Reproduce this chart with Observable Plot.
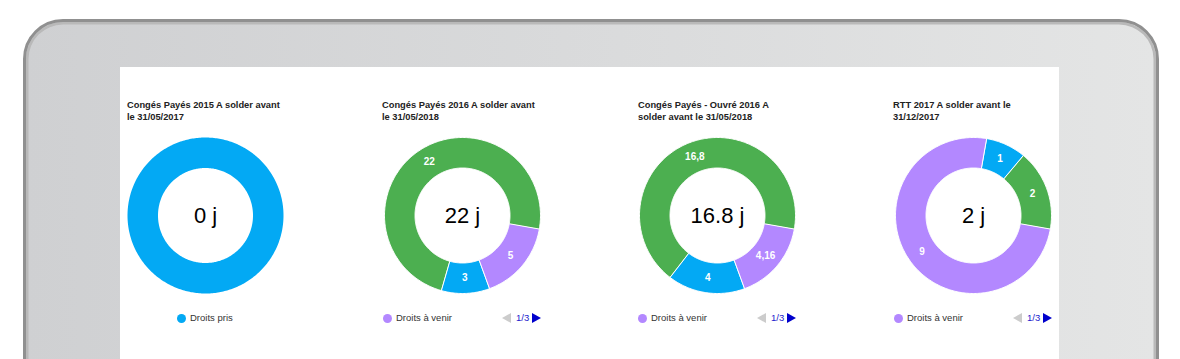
<!DOCTYPE html>
<html><head><meta charset="utf-8">
<script src="https://cdn.jsdelivr.net/npm/d3@7"></script>
<script src="https://cdn.jsdelivr.net/npm/@observablehq/plot@0.6"></script>
<style>
html,body{margin:0;padding:0;width:1180px;height:359px;overflow:hidden;background:#fff;font-family:Arial,"Liberation Sans",sans-serif;}
#frame{position:absolute;left:23px;top:19px;width:1130px;height:420px;border:3.5px solid #909090;border-radius:40px;background:linear-gradient(to right,#cfd0d2,#e4e5e5);box-shadow:inset 0 0 0 2.5px #b9b9b9;}
#screen{position:absolute;left:120px;top:67px;width:939px;height:300px;background:#fff;}
.title{position:absolute;font-weight:bold;font-size:9.3px;line-height:12px;color:#222;white-space:nowrap;}
.chart{position:absolute;}
.legend{position:absolute;height:12px;font-size:9.5px;color:#333;white-space:nowrap;}
.dot{position:absolute;width:9px;height:9px;border-radius:50%;top:1.5px;}
.ltxt{position:absolute;top:0;line-height:12px;}
.tl{position:absolute;top:0.5px;width:0;height:0;border-top:5.5px solid transparent;border-bottom:5.5px solid transparent;border-right:9px solid #cccccc;}
.tr{position:absolute;top:0.5px;width:0;height:0;border-top:5.5px solid transparent;border-bottom:5.5px solid transparent;border-left:9px solid #0000cc;}
.pnum{position:absolute;top:0;line-height:12px;color:#2222cc;font-size:9.5px;}
</style>
</head><body>
<div id="frame"></div>
<div id="screen"></div>
<script>
// ---- data ----
const categories = ["Droits à venir", "Droits pris", "Droits acquis"];
const colors = ["#b388ff", "#03a9f4", "#4caf50"];
const titles = [
  ["Congés Payés 2015 A solder avant", "le 31/05/2017"],
  ["Congés Payés 2016 A solder avant", "le 31/05/2018"],
  ["Congés Payés - Ouvré 2016 A", "solder avant le 31/05/2018"],
  ["RTT 2017 A solder avant le", "31/12/2017"]
];
const aVenir = [0, 5, 4.16, 9];
const pris   = [25, 3, 4, 1];
const acquis = [0, 22, 16.8, 2];
const centerLabels = ["0 j", "22 j", "16.8 j", "2 j"];
const legendLabels = ["Droits pris", "Droits à venir", "Droits à venir", "Droits à venir"];
const pageLabels = [null, "1/3", "1/3", "1/3"];

// ---- layout ----
const centersX = [205, 462, 717, 973];
const titleX = [127, 382, 638, 893];
const cy = 215;
const R = 78, r0 = 47.5, S = 85;
const startAngle = 100 * Math.PI / 180;

centersX.forEach((cx, i) => {
  const vals = [aVenir[i], pris[i], acquis[i]];
  const arcs = d3.pie().sort(null).startAngle(startAngle).endAngle(startAngle + 2 * Math.PI)(vals);
  const pts = [];
  const labels = [];
  arcs.forEach((a, k) => {
    if (a.value <= 0) return;
    const span = a.endAngle - a.startAngle;
    const n = Math.max(2, Math.ceil(span / (Math.PI / 180)));
    for (let t = 0; t <= n; t++) {
      const ang = a.startAngle + span * t / n;
      pts.push({id: k, cat: categories[k], x: R * Math.sin(ang), y: -R * Math.cos(ang)});
    }
    for (let t = n; t >= 0; t--) {
      const ang = a.startAngle + span * t / n;
      pts.push({id: k, cat: categories[k], x: r0 * Math.sin(ang), y: -r0 * Math.cos(ang)});
    }
    if (span < 2 * Math.PI - 1e-6) {
      const mid = (a.startAngle + a.endAngle) / 2, rm = (R + r0) / 2;
      labels.push({x: rm * Math.sin(mid), y: -rm * Math.cos(mid), text: String(a.value).replace(".", ",")});
    }
  });
  const multi = labels.length > 0;
  const chart = Plot.plot({
    width: 2 * S, height: 2 * S, margin: 0,
    style: {fontFamily: "Arial, 'Liberation Sans', sans-serif", background: "transparent", overflow: "visible"},
    x: {domain: [-S, S], range: [0, 2 * S], axis: null},
    y: {domain: [-S, S], range: [0, 2 * S], axis: null},
    color: {domain: categories, range: colors},
    marks: [
      Plot.line(pts, {x: "x", y: "y", z: "id", fill: "cat", stroke: "#ffffff", strokeWidth: multi ? 1 : 0, curve: "linear-closed"}),
      Plot.text(labels, {x: "x", y: "y", text: "text", fill: "#ffffff", fontSize: 10, fontWeight: "bold"}),
      Plot.text([centerLabels[i]], {frameAnchor: "middle", text: d => d, fill: "#000", fontSize: 22})
    ]
  });
  chart.classList.add("chart");
  chart.style.left = (cx - S) + "px";
  chart.style.top = (cy - S) + "px";
  document.body.appendChild(chart);

  // title
  const t = document.createElement("div");
  t.className = "title";
  t.style.left = titleX[i] + "px";
  t.style.top = "99px";
  t.innerHTML = titles[i].join("<br>");
  document.body.appendChild(t);

  // legend
  const lg = document.createElement("div");
  lg.className = "legend";
  lg.style.top = "312px";
  const catIdx = categories.indexOf(legendLabels[i]);
  if (pageLabels[i]) {
    lg.style.left = (cx - 80) + "px";
    lg.style.width = "160px";
    lg.innerHTML = `<span class="dot" style="left:1px;background:${colors[catIdx]}"></span>` +
      `<span class="ltxt" style="left:14px">${legendLabels[i]}</span>` +
      `<span class="tl" style="left:120px"></span>` +
      `<span class="pnum" style="left:134px">${pageLabels[i]}</span>` +
      `<span class="tr" style="left:150px"></span>`;
  } else {
    lg.style.left = (cx - 28) + "px";
    lg.style.width = "70px";
    lg.innerHTML = `<span class="dot" style="left:0;background:${colors[catIdx]}"></span>` +
      `<span class="ltxt" style="left:13px">${legendLabels[i]}</span>`;
  }
  document.body.appendChild(lg);
});
</script>
</body></html>
